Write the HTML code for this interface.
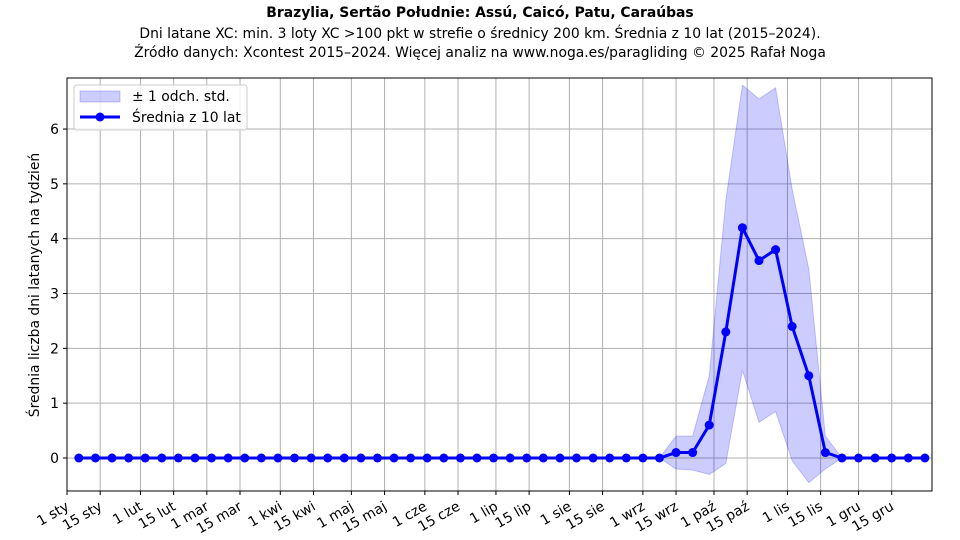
<!DOCTYPE html><html><head><meta charset="utf-8"><style>body{margin:0;background:#fff}svg{display:block;font-family:"DejaVu Sans","Liberation Sans",sans-serif}</style></head><body>
<svg width="960" height="540" xmlns="http://www.w3.org/2000/svg">
<text x="480" y="17" text-anchor="middle" font-size="13.9" font-weight="bold">Brazylia, Sertão Południe: Assú, Caicó, Patu, Caraúbas</text>
<text x="480" y="38" text-anchor="middle" font-size="13.9">Dni latane XC: min. 3 loty XC &gt;100 pkt w strefie o średnicy 200 km. Średnia z 10 lat (2015–2024).</text>
<text x="480" y="57" text-anchor="middle" font-size="13.9">Źródło danych: Xcontest 2015–2024. Więcej analiz na www.noga.es/paragliding © 2025 Rafał Noga</text>
<g id="g"></g>
<text transform="translate(39,285) rotate(-90)" text-anchor="middle" font-size="13.9">Średnia liczba dni latanych na tydzień</text>
</svg>
<script>
const L=67,R=932,T=78,B=491,y0=458,s=54.83;
const X=d=>L+d*(R-L)/365, Y=v=>y0-v*s;
let h='';
const days=[0,14,31,45,59,73,90,104,120,134,151,165,181,195,212,226,243,257,273,287,304,318,334,348];
const names=['1 sty','15 sty','1 lut','15 lut','1 mar','15 mar','1 kwi','15 kwi','1 maj','15 maj','1 cze','15 cze','1 lip','15 lip','1 sie','15 sie','1 wrz','15 wrz','1 paź','15 paź','1 lis','15 lis','1 gru','15 gru'];
days.forEach((d,i)=>{const x=X(d);h+=`<line x1="${x}" y1="${T}" x2="${x}" y2="${B}" stroke="#b0b0b0" stroke-width="1"/><line x1="${x}" y1="${B}" x2="${x}" y2="${B+4}" stroke="#000"/><text transform="translate(${x+3},${B+18}) rotate(-30)" text-anchor="end" font-size="13.9">${names[i]}</text>`;});
for(let v=0;v<=6;v++){const y=Y(v);h+=`<line x1="${L}" y1="${y}" x2="${R}" y2="${y}" stroke="#b0b0b0"/><line x1="${L-4}" y1="${y}" x2="${L}" y2="${y}" stroke="#000"/><text x="${L-8}" y="${y+5}" text-anchor="end" font-size="13.9">${v}</text>`;}
const m=Array(52).fill(0);const up=Array(52).fill(0),lo=Array(52).fill(0);
const d={36:[0.1,0.4,-0.2],37:[0.1,0.4,-0.22],38:[0.6,1.5,-0.3],39:[2.3,4.7,-0.1],40:[4.2,6.8,1.6],41:[3.6,6.55,0.65],42:[3.8,6.75,0.85],43:[2.4,4.9,-0.05],44:[1.5,3.45,-0.45],45:[0.1,0.4,-0.2]};
for(const k in d){m[k]=d[k][0];up[k]=d[k][1];lo[k]=d[k][2];}
const px=i=>X(5+7*i);
let poly=[];for(let i=0;i<52;i++)poly.push(px(i)+','+Y(up[i]));for(let i=51;i>=0;i--)poly.push(px(i)+','+Y(lo[i]));
h+=`<polygon points="${poly.join(' ')}" fill="rgba(0,0,255,0.2)" stroke="rgba(0,0,255,0.2)"/>`;
h+=`<polyline points="${m.map((v,i)=>px(i)+','+Y(v)).join(' ')}" fill="none" stroke="#0000ff" stroke-width="3"/>`;
m.forEach((v,i)=>h+=`<circle cx="${px(i)}" cy="${Y(v)}" r="4.5" fill="#0000ff"/>`);
h+=`<rect x="${L}" y="${T}" width="${R-L}" height="${B-T}" fill="none" stroke="#000"/>`;
h+=`<rect x="74" y="85" width="173" height="45" rx="3" fill="#fff" fill-opacity="0.8" stroke="#ccc"/>`;
h+=`<rect x="80" y="91" width="40" height="11" fill="rgba(0,0,255,0.2)" stroke="rgba(0,0,255,0.2)"/><text x="132" y="101" font-size="13.9">± 1 odch. std.</text>`;
h+=`<line x1="80" y1="117" x2="120" y2="117" stroke="#0000ff" stroke-width="3"/><circle cx="100" cy="117" r="4.5" fill="#0000ff"/><text x="132" y="122" font-size="13.9">Średnia z 10 lat</text>`;
document.getElementById('g').innerHTML=h;
</script>
</body></html>
